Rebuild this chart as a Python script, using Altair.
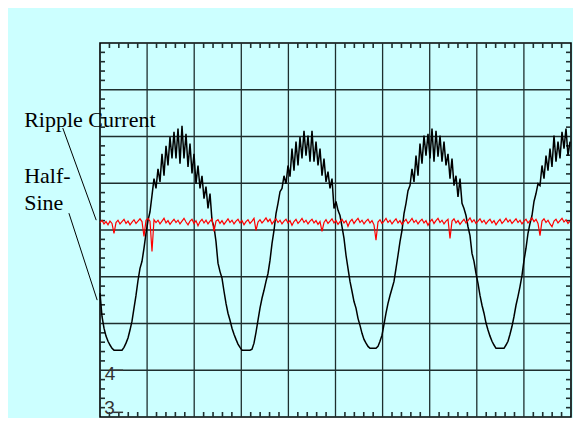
import altair as alt
import pandas as pd

BG = "#CCFFFF"
SAMPLE_STEP = 2 / 47.1  # horizontal divisions per sample

# Black trace (Half-Sine current), vertical divisions, one sample per step
black_trace = [
    2.65, 2.15, 1.90, 1.73, 1.62, 1.54, 1.47, 1.43, 1.43, 1.43,
    1.43, 1.43, 1.49, 1.58, 1.69, 1.86, 2.05, 2.33, 2.60, 2.92,
    3.18, 3.33, 3.61, 3.93, 4.20, 4.39, 4.74, 5.10, 4.89, 5.31,
    5.03, 5.63, 5.16, 5.80, 5.38, 5.99, 5.53, 6.10, 5.53, 6.17,
    5.42, 6.23, 5.53, 6.06, 5.35, 5.85, 5.21, 5.63, 4.99, 5.38,
    4.89, 5.16, 4.67, 4.93, 4.46, 4.78, 4.20, 4.07, 3.75, 3.29,
    3.11, 2.97, 2.69, 2.43, 2.22, 2.07, 1.90, 1.77, 1.66, 1.56,
    1.49, 1.43, 1.43, 1.43, 1.43, 1.43, 1.45, 1.58, 1.81, 2.07,
    2.33, 2.54, 2.71, 2.90, 3.07, 3.35, 3.71, 3.99, 4.35, 4.57,
    4.82, 4.89, 5.16, 4.99, 5.38, 5.14, 5.74, 5.27, 5.89, 5.38,
    5.99, 5.53, 6.12, 5.59, 6.02, 5.46, 6.12, 5.46, 5.89, 5.38,
    5.74, 5.16, 5.53, 5.03, 5.25, 4.89, 5.10, 4.46, 4.61, 4.42,
    4.31, 4.07, 3.82, 3.46, 3.18, 2.90, 2.69, 2.47, 2.33, 2.11,
    1.96, 1.79, 1.66, 1.58, 1.51, 1.47, 1.47, 1.47, 1.47, 1.51,
    1.62, 1.75, 1.98, 2.22, 2.43, 2.60, 2.75, 2.90, 3.18, 3.46,
    3.75, 3.99, 4.35, 4.57, 4.84, 4.95, 5.31, 5.03, 5.59, 5.16,
    5.85, 5.42, 6.02, 5.59, 6.06, 5.53, 6.17, 5.46, 6.12, 5.57,
    6.02, 5.46, 5.89, 5.38, 5.63, 5.10, 5.53, 4.95, 5.16, 4.71,
    5.10, 4.57, 4.46, 4.31, 4.07, 3.88, 3.50, 3.33, 3.07, 2.86,
    2.60, 2.39, 2.22, 2.01, 1.86, 1.73, 1.62, 1.54, 1.47, 1.47,
    1.47, 1.47, 1.47, 1.54, 1.62, 1.77, 1.94, 2.15, 2.39, 2.58,
    2.79, 3.03, 3.35, 3.61, 3.93, 4.14, 4.31, 4.61, 4.78, 4.99,
    4.95, 5.38, 5.10, 5.59, 5.27, 5.74, 5.35, 6.02, 5.46, 5.89,
    5.53, 6.10, 5.74, 6.17, 5.59, 5.89,
]

# Red trace (Ripple Current), vertical divisions
red_trace = [
    4.16, 4.21, 4.13, 4.18, 4.11, 4.19, 4.14, 3.93, 4.16, 4.21,
    4.13, 4.18, 4.23, 4.14, 4.19, 4.11, 4.17, 4.22, 4.14, 4.19,
    4.24, 4.18, 3.86, 4.21, 4.25, 4.19, 3.54, 4.22, 4.16, 4.21,
    4.13, 4.19, 4.25, 4.15, 4.20, 4.12, 4.18, 4.23, 4.16, 4.21,
    4.13, 4.19, 4.25, 4.17, 4.11, 4.19, 4.23, 4.14, 4.20, 4.09,
    4.18, 4.23, 4.15, 4.21, 4.13, 4.19, 4.24, 3.97, 4.19, 4.22,
    4.14, 4.20, 4.12, 4.18, 4.24, 4.16, 4.21, 4.13, 4.19, 4.23,
    4.15, 4.20, 4.11, 4.18, 4.22, 4.14, 4.19, 4.25, 3.99, 4.17,
    4.22, 4.15, 4.20, 4.26, 4.18, 4.23, 4.13, 4.19, 4.24, 4.16,
    4.21, 4.13, 4.19, 4.23, 4.15, 4.20, 4.10, 4.18, 4.23, 4.14,
    4.19, 4.25, 4.16, 4.21, 4.13, 4.19, 4.23, 4.15, 4.20, 4.12,
    4.18, 3.97, 4.16, 4.22, 4.14, 4.19, 4.24, 4.15, 4.20, 4.12,
    4.18, 4.23, 4.15, 4.20, 4.08, 4.18, 4.23, 4.14, 4.20, 4.25,
    4.16, 4.21, 4.13, 4.19, 4.23, 4.15, 4.20, 4.11, 3.78, 4.17,
    4.22, 4.14, 4.19, 4.25, 4.16, 4.21, 4.13, 4.19, 4.24, 4.15,
    4.20, 4.12, 4.18, 4.23, 4.14, 4.19, 4.25, 4.16, 4.21, 4.13,
    4.19, 4.23, 4.15, 4.20, 4.10, 4.18, 4.23, 4.14, 4.20, 4.25,
    4.16, 4.21, 4.13, 4.19, 4.23, 3.82, 4.19, 4.24, 4.15, 4.20,
    4.12, 4.18, 4.23, 4.15, 4.20, 4.26, 4.17, 4.22, 4.14, 4.19,
    4.24, 4.16, 4.21, 4.13, 4.19, 4.23, 4.15, 4.20, 4.11, 4.18,
    4.23, 4.14, 4.19, 4.25, 4.17, 4.22, 4.14, 4.19, 4.24, 4.16,
    4.21, 4.13, 4.19, 4.23, 4.15, 4.20, 4.26, 4.18, 4.23, 4.14,
    3.88, 4.19, 4.24, 4.16, 4.21, 4.13, 4.07, 4.19, 4.23, 4.15,
    4.20, 4.25, 4.17, 4.22, 4.14, 4.19,
]

grid_x = [1, 2, 3, 4, 5, 6, 7, 8, 9]
grid_y = [1, 2, 3, 4, 5, 6, 7]
minor_x = [round(i * 0.2, 1) for i in range(1, 50) if i % 5]
minor_y = [round(i * 0.2, 1) for i in range(1, 40) if i % 5]

label_text = ["Ripple Current", "Half-", "Sine"]
label_x = [-1.61, -1.61, -1.61]
label_y = [6.20, 5.01, 4.43]

leader_x = [-0.79, -0.66]
leader_y = [6.18, 4.36]
leader_x2 = [-0.08, -0.06]
leader_y2 = [4.21, 2.50]

marker_text = ["4", "3"]
marker_x = [0.10, 0.09]
marker_y = [0.79, 0.07]
marker_line_x = [0.28, 0.28]
marker_line_x2 = [0.49, 0.49]
marker_line_y = [1.0, 0.1]

W, H = 471, 374
xs = alt.Scale(domain=[0, 10], nice=False, zero=False)
ys = alt.Scale(domain=[0, 8], nice=False, zero=False)

t = [round(i * SAMPLE_STEP, 4) for i in range(len(black_trace))]
black_df = pd.DataFrame({"t": t, "v": black_trace})
red_df = pd.DataFrame({"t": t[: len(red_trace)], "v": red_trace})

GRID = "#1e2e2e"

vgrid = alt.Chart(pd.DataFrame({"x": grid_x})).mark_rule(color=GRID, strokeWidth=1.3).encode(
    x=alt.X("x:Q", scale=xs, axis=None))
hgrid = alt.Chart(pd.DataFrame({"y": grid_y})).mark_rule(color=GRID, strokeWidth=1.3).encode(
    y=alt.Y("y:Q", scale=ys, axis=None))

mx = pd.DataFrame({"x": minor_x})
my = pd.DataFrame({"y": minor_y})
tick_top = alt.Chart(mx).mark_rule(color=GRID, strokeWidth=1.6).encode(
    x=alt.X("x:Q", scale=xs, axis=None), y=alt.value(0), y2=alt.value(5))
tick_bot = alt.Chart(mx).mark_rule(color=GRID, strokeWidth=1.6).encode(
    x=alt.X("x:Q", scale=xs, axis=None), y=alt.value(H - 5), y2=alt.value(H))
tick_left = alt.Chart(my).mark_rule(color=GRID, strokeWidth=1.6).encode(
    y=alt.Y("y:Q", scale=ys, axis=None), x=alt.value(0), x2=alt.value(5))
tick_right = alt.Chart(my).mark_rule(color=GRID, strokeWidth=1.6).encode(
    y=alt.Y("y:Q", scale=ys, axis=None), x=alt.value(W - 5), x2=alt.value(W))

black_line = alt.Chart(black_df).mark_line(color="black", strokeWidth=1.5).encode(
    x=alt.X("t:Q", scale=xs, axis=None), y=alt.Y("v:Q", scale=ys, axis=None))
red_line = alt.Chart(red_df).mark_line(color="#ff0000", strokeWidth=1.2).encode(
    x=alt.X("t:Q", scale=xs, axis=None), y=alt.Y("v:Q", scale=ys, axis=None))

labels = alt.Chart(pd.DataFrame({"x": label_x, "y": label_y, "label": label_text})).mark_text(
    align="left", baseline="alphabetic", font="Liberation Serif", fontSize=22, color="black"
).encode(x=alt.X("x:Q", scale=xs, axis=None), y=alt.Y("y:Q", scale=ys, axis=None), text="label:N")

leaders = alt.Chart(pd.DataFrame({"x": leader_x, "y": leader_y, "x2": leader_x2, "y2": leader_y2})).mark_rule(
    color="black", strokeWidth=1
).encode(x=alt.X("x:Q", scale=xs, axis=None), y=alt.Y("y:Q", scale=ys, axis=None), x2="x2:Q", y2="y2:Q")

markers = alt.Chart(pd.DataFrame({"x": marker_x, "y": marker_y, "label": marker_text})).mark_text(
    align="left", baseline="alphabetic", font="Liberation Sans", fontSize=19, color="#333333"
).encode(x=alt.X("x:Q", scale=xs, axis=None), y=alt.Y("y:Q", scale=ys, axis=None), text="label:N")

marker_lines = alt.Chart(pd.DataFrame({"x": marker_line_x, "x2": marker_line_x2, "y": marker_line_y})).mark_rule(
    color="#333333", strokeWidth=1.5
).encode(x=alt.X("x:Q", scale=xs, axis=None), x2="x2:Q", y=alt.Y("y:Q", scale=ys, axis=None))

chart = alt.layer(
    vgrid, hgrid, tick_top, tick_bot, tick_left, tick_right,
    black_line, red_line, labels, leaders, markers, marker_lines
).properties(
    width=W, height=H,
    padding={"left": 92, "top": 35, "right": 2, "bottom": 1},
    autosize=alt.AutoSizeParams(type="none"),
    background=BG,
).configure_view(stroke="black", strokeWidth=1.6, fill=BG)

chart.save("out.html", embed_options={"renderer": "svg", "actions": False})
